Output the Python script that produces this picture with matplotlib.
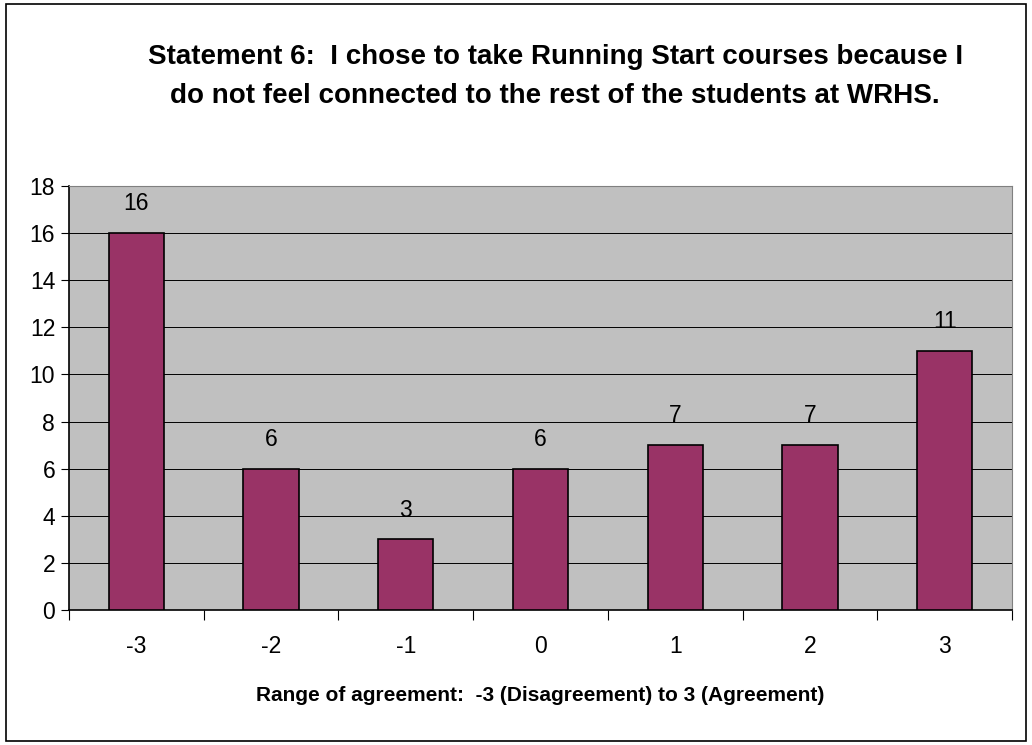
import matplotlib.pyplot as plt
from matplotlib.patches import Rectangle

plt.rcParams['font.family'] = ['Liberation Sans', 'DejaVu Sans']

# Survey responses per agreement level
levels = ['-3', '-2', '-1', '0', '1', '2', '3']
counts = [16, 6, 3, 6, 7, 7, 11]

fig = plt.figure(figsize=(10.32, 7.45), dpi=100)
fig.patches.append(Rectangle((0.006, 0.006), 0.988, 0.988, transform=fig.transFigure,
                             fill=False, edgecolor='black', linewidth=1.2))

ax = fig.add_axes([0.0669, 0.1812, 0.9137, 0.5691])
ax.set_facecolor('#C0C0C0')

x = range(len(levels))
bars = ax.bar(x, counts, width=0.41, color='#993366', edgecolor='black', linewidth=1.2, zorder=3)
for i, v in enumerate(counts):
    ax.text(i, v + 0.75, str(v), ha='center', va='bottom', fontsize=16.5, zorder=4)

ax.set_xlim(-0.5, len(levels) - 0.5)
ax.set_ylim(0, 18)
ax.set_yticks(range(0, 19, 2))
ax.yaxis.grid(True, color='black', linewidth=0.7, zorder=1)
ax.tick_params(axis='y', labelsize=16.5, length=6, direction='out', pad=4)

ax.set_xticks([i + 0.5 for i in range(-1, len(levels))], minor=False)
ax.set_xticklabels([])
ax.set_xticks(list(x), minor=True)
ax.set_xticklabels(levels, minor=True, fontsize=16.5)
ax.tick_params(axis='x', which='major', length=7, direction='out')
ax.tick_params(axis='x', which='minor', length=0, pad=18)

for side in ['top', 'right']:
    ax.spines[side].set_color('#808080')
for side in ['left', 'bottom']:
    ax.spines[side].set_color('black')
    ax.spines[side].set_linewidth(1.2)

ax.set_xlabel('Range of agreement:  -3 (Disagreement) to 3 (Agreement)',
              fontsize=15, fontweight='bold', labelpad=20)

fig.text(0.538, 0.897, 'Statement 6:  I chose to take Running Start courses because I\n'
         'do not feel connected to the rest of the students at WRHS.',
         ha='center', va='center', fontsize=20, fontweight='bold', linespacing=1.65)

fig.savefig('out.png', dpi=100)
